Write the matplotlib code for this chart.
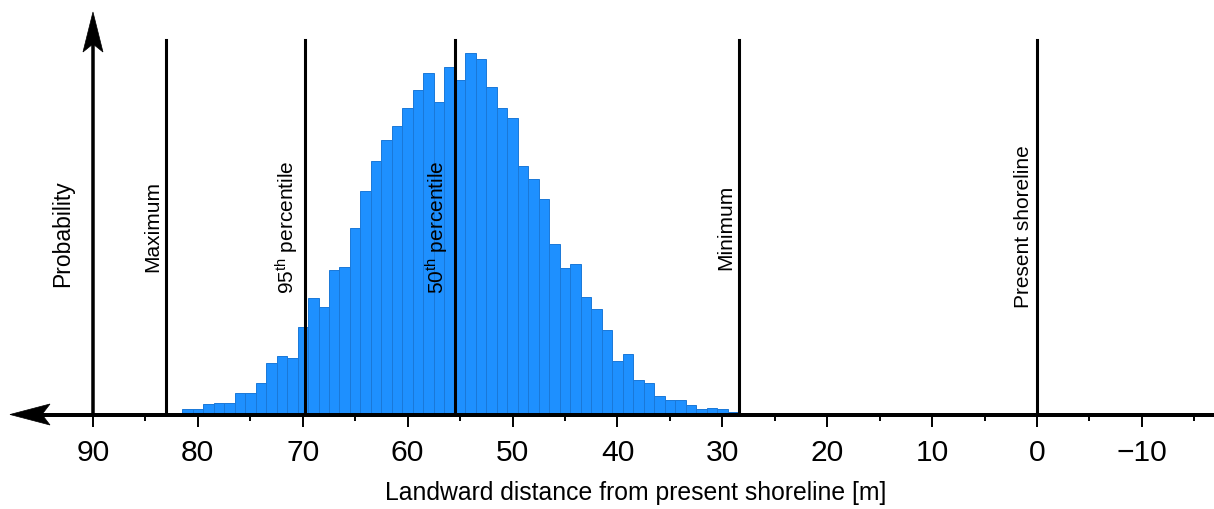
import numpy as np
import matplotlib
matplotlib.use("Agg")
from matplotlib import pyplot as plt
from matplotlib.patches import Polygon
from matplotlib.transforms import IdentityTransform

plt.rcParams['font.family'] = ['Liberation Sans', 'DejaVu Sans']
plt.rcParams['mathtext.fontset'] = 'custom'
plt.rcParams['mathtext.rm'] = 'Liberation Sans'
plt.rcParams['mathtext.it'] = 'Liberation Sans:italic'

# histogram of landward distance (1 m bins, centres in m), relative counts
bin_centres = list(range(83, 27, -1))
counts = [1, 2, 7, 8, 14, 16, 16, 29, 29, 42,
          69, 78, 75, 117, 156, 144, 194, 198, 250, 299,
          339, 367, 386, 411, 434, 457, 418, 466, 448, 484,
          476, 439, 411, 397, 333, 315, 289, 228, 196, 201,
          157, 141, 113, 71, 81, 46, 42, 25, 19, 19,
          13, 7, 9, 7, 3, 1]

# reference lines
line_pos = [83.0, 69.8, 55.5, 28.4, 0.0]
line_labels = ['Maximum', '95$^{\\mathrm{th}}$ percentile', '50$^{\\mathrm{th}}$ percentile',
               'Minimum', 'Present shoreline']

major_ticks = list(range(90, -11, -10))
minor_ticks = list(range(85, -16, -10))

W, H = 1214, 509
fig = plt.figure(figsize=(W / 100, H / 100), dpi=100)
ax = fig.add_axes([10 / W, (H - 414.5) / H, (W - 10) / W, (414.5 - 12) / H])
ax.set_xlim(97.91, -16.87)
ax.set_ylim(0, 539)

ax.bar(bin_centres, counts, width=1.0, color='#1E90FF', edgecolor='#1a78d8', linewidth=0.7, zorder=2)

for x, lab in zip(line_pos, line_labels):
    ax.axvline(x, ymin=0, ymax=0.93, color='black', lw=2.2, zorder=3)
    ax.annotate(lab, xy=(x, 0.466), xycoords=ax.get_xaxis_transform(),
                xytext=(-4, 0), textcoords='offset pixels',
                rotation=90, ha='right', va='center', fontsize=15)

for s in ax.spines.values():
    s.set_visible(False)
ax.set_yticks([])
ax.set_xticks(major_ticks)
ax.set_xticks(minor_ticks, minor=True)
ax.tick_params(axis='x', which='major', length=8.6, width=1.4, direction='out', labelsize=21.6, pad=9)
ax.tick_params(axis='x', which='minor', length=4.3, width=1.4, direction='out')


def draw_arrow(ax, tail, tip, trans, lw_px, head_len, head_w, notch):
    """draw a line with a notched arrow head, sizes in pixels"""
    t0 = trans.transform(tail)
    t1 = trans.transform(tip)
    d = (t1 - t0) / np.hypot(*(t1 - t0))
    n = np.array([-d[1], d[0]])
    base = t1 - d * head_len
    notch_pt = t1 - d * (head_len - notch)
    fig = ax.figure
    fig.add_artist(plt.Line2D([t0[0], notch_pt[0]], [t0[1], notch_pt[1]], lw=lw_px * 0.72,
                              color='black', transform=IdentityTransform(), solid_capstyle='butt', zorder=5))
    head = Polygon([t1, base + n * head_w / 2, notch_pt, base - n * head_w / 2], closed=True,
                   facecolor='black', edgecolor='black', lw=0.5, transform=IdentityTransform(), zorder=6)
    fig.add_artist(head)


# x axis arrow pointing landward (left)
draw_arrow(ax, (1.0, 0.0), (0.0, 0.0), ax.transAxes, 4, 40, 21, 8)
# y axis arrow at 90 m
draw_arrow(ax, (90, 0.0), (90, 1.0), ax.get_xaxis_transform(), 3.5, 40, 20, 8)

fig.text(63 / W, 1 - 234 / H, 'Probability', rotation=90, ha='center', va='center', fontsize=16.5)
fig.text(636 / W, 1 - 493 / H, 'Landward distance from present shoreline [m]',
         ha='center', va='center', fontsize=17.8)

fig.savefig('out.png', dpi=100)
